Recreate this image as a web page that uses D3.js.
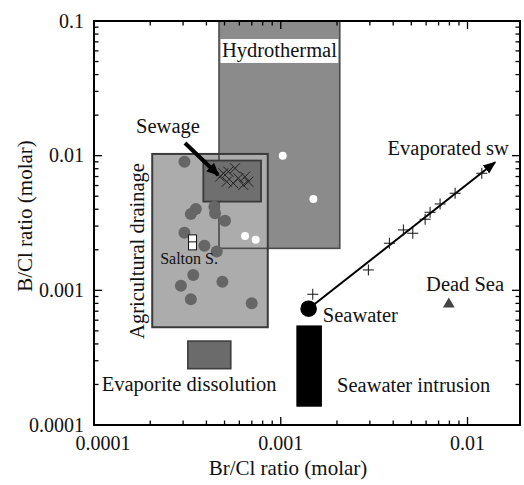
<!DOCTYPE html>
<html>
<head>
<meta charset="utf-8">
<script src="https://cdn.jsdelivr.net/npm/d3@7"></script>
<style>
  html, body { margin: 0; padding: 0; background: #fff; }
  svg { display: block; }
</style>
</head>
<body>
<script>
// ---- Axis settings ----
const xMajorTicks = [1e-4, 1e-3, 1e-2];
const xTickLabels = ["0.0001", "0.001", "0.01"];
const yMajorTicks = [1e-4, 1e-3, 1e-2, 1e-1];
const yTickLabels = ["0.0001", "0.001", "0.01", "0.1"];
const xDomain = [1e-4, 0.0191];
const yDomain = [1e-4, 0.1];

// ---- Source fields: [x0, x1, y0, y1] in Br/Cl and B/Cl ----
const hydrothermalBox = [0.000467, 0.00207, 0.00205, 0.1];
const agriculturalBox = [0.000205, 0.000852, 0.000532, 0.0103];
const sewageBox = [0.000385, 0.000784, 0.00456, 0.0092];
const evaporiteBox = [0.000318, 0.00054, 0.000262, 0.00042];
const intrusionBox = [0.00122, 0.00165, 0.000138, 0.000544];

// ---- Agricultural drainage samples ----
const agriBrCl = [0.000305, 0.000351, 0.00033, 0.000441, 0.000445, 0.000503, 0.000305,
                  0.00039, 0.000454, 0.00034, 0.000292, 0.000487, 0.00033, 0.000699];
const agriBCl  = [0.00902, 0.00402, 0.00369, 0.00418, 0.00374, 0.00329, 0.00268,
                  0.00214, 0.00194, 0.0013, 0.00108, 0.00116, 0.000859, 0.000802];

// ---- Hydrothermal samples ----
const hydroBrCl = [0.001025, 0.001495, 0.000644, 0.000734];
const hydroBCl  = [0.0100, 0.00477, 0.00253, 0.00237];

// ---- Sewage samples ----
const sewageBrCl = [0.000473, 0.000524, 0.000569, 0.000593, 0.000644, 0.00067, 0.00063,
                    0.000514, 0.000557, 0.000493];
const sewageBCl  = [0.00698, 0.0076, 0.00806, 0.0068, 0.00698, 0.00641, 0.00606,
                    0.00641, 0.00624, 0.0074];

// ---- Salton Sea ----
const saltonBrCl = [0.000337, 0.000337];
const saltonBCl  = [0.00241, 0.00214];

// ---- Evaporated seawater ----
const evapBrCl = [0.001484, 0.002945, 0.003817, 0.004536, 0.005093, 0.005929, 0.006305,
                  0.007131, 0.008582, 0.01193];
const evapBCl  = [0.000935, 0.001417, 0.002237, 0.002808, 0.002654, 0.003372, 0.0038,
                  0.004378, 0.005258, 0.0074];
const evapTrend = [[0.00141, 0.00073], [0.01406, 0.00893]];

// ---- Single end members ----
const seawater = [0.00141, 0.00073];
const deadSea = [0.00794, 0.000789];

// ---- Annotation arrow (Sewage) ----
const sewageArrow = [[0.000307, 0.01242], [0.000463, 0.00719]];

const width = 524, height = 485;
const margin = { left: 94, right: 4, top: 21, bottom: 60 };
const serif = "'Liberation Serif', 'Times New Roman', Times, 'DejaVu Serif', serif";

const svg = d3.select("body").append("svg")
  .attr("width", width).attr("height", height)
  .attr("font-family", serif)
  .style("font-family", serif);

const x = d3.scaleLog().domain(xDomain).range([margin.left, width - margin.right]);
const y = d3.scaleLog().domain(yDomain).range([height - margin.bottom, margin.top]);

const defs = svg.append("defs");
defs.append("clipPath").attr("id", "plotClip")
  .append("rect")
  .attr("x", margin.left).attr("y", margin.top)
  .attr("width", x.range()[1] - margin.left)
  .attr("height", y.range()[0] - margin.top);

defs.append("marker").attr("id", "headSmall")
  .attr("viewBox", "0 0 10 10").attr("refX", 9).attr("refY", 5)
  .attr("markerWidth", 6.5).attr("markerHeight", 6.5)
  .attr("markerUnits", "strokeWidth")
  .attr("orient", "auto")
  .append("path").attr("d", "M0,1 L10,5 L0,9 Z").attr("fill", "#000");

defs.append("marker").attr("id", "headBig")
  .attr("viewBox", "0 0 10 10").attr("refX", 9).attr("refY", 5)
  .attr("markerWidth", 3.2).attr("markerHeight", 3.2)
  .attr("markerUnits", "strokeWidth")
  .attr("orient", "auto")
  .append("path").attr("d", "M0,0.5 L10,5 L0,9.5 Z").attr("fill", "#000");

const plot = svg.append("g").attr("clip-path", "url(#plotClip)");

function box(b, fill, stroke, sw) {
  return plot.append("rect")
    .attr("x", x(b[0])).attr("y", y(b[3]))
    .attr("width", x(b[1]) - x(b[0]))
    .attr("height", y(b[2]) - y(b[3]))
    .attr("fill", fill)
    .attr("stroke", stroke)
    .attr("stroke-width", sw);
}

// Hydrothermal field
box(hydrothermalBox, "#8b8b8b", "none", 0);
// Agricultural drainage field drawn over it
box(agriculturalBox, "#acacac", "none", 0);
// Outlines
box(hydrothermalBox, "none", "#4a4a4a", 1.6);
box(agriculturalBox, "none", "#3a3a3a", 2);
// Sewage field
box(sewageBox, "#6f6f6f", "#3a3a3a", 1.8);
// Evaporite dissolution
box(evaporiteBox, "#6b6b6b", "#3e3e3e", 1.6);
// Seawater intrusion
box(intrusionBox, "#000", "#000", 1);

// Hydrothermal label backing
const hb0 = 0.0735, hb1 = 0.0488;
plot.append("rect")
  .attr("x", x(hydrothermalBox[0]) + 1.5)
  .attr("y", y(hb0))
  .attr("width", x(hydrothermalBox[1]) - x(hydrothermalBox[0]) - 3)
  .attr("height", y(hb1) - y(hb0))
  .attr("fill", "#fff");

// Agricultural drainage samples
plot.append("g").selectAll("circle")
  .data(d3.zip(agriBrCl, agriBCl))
  .join("circle")
  .attr("cx", d => x(d[0])).attr("cy", d => y(d[1]))
  .attr("r", 6).attr("fill", "#666");

// Hydrothermal samples
plot.append("g").selectAll("circle")
  .data(d3.zip(hydroBrCl, hydroBCl))
  .join("circle")
  .attr("cx", d => x(d[0])).attr("cy", d => y(d[1]))
  .attr("r", 4).attr("fill", "#fff");

// Sewage samples (x marks)
plot.append("g").selectAll("path")
  .data(d3.zip(sewageBrCl, sewageBCl))
  .join("path")
  .attr("transform", d => `translate(${x(d[0])},${y(d[1])})`)
  .attr("d", "M-5,-5L5,5M-5,5L5,-5")
  .attr("stroke", "#222").attr("stroke-width", 1);

// Salton Sea samples
plot.append("g").selectAll("rect")
  .data(d3.zip(saltonBrCl, saltonBCl))
  .join("rect")
  .attr("x", d => x(d[0]) - 4).attr("y", d => y(d[1]) - 4)
  .attr("width", 8).attr("height", 8)
  .attr("fill", "#fff").attr("stroke", "#111").attr("stroke-width", 1);

// Evaporated seawater trend
plot.append("line")
  .attr("x1", x(evapTrend[0][0])).attr("y1", y(evapTrend[0][1]))
  .attr("x2", x(evapTrend[1][0])).attr("y2", y(evapTrend[1][1]))
  .attr("stroke", "#000").attr("stroke-width", 2)
  .attr("marker-end", "url(#headSmall)");

plot.append("g").selectAll("path")
  .data(d3.zip(evapBrCl, evapBCl))
  .join("path")
  .attr("transform", d => `translate(${x(d[0])},${y(d[1])})`)
  .attr("d", "M-5.5,0H5.5M0,-5.5V5.5")
  .attr("stroke", "#111").attr("stroke-width", 1);

// Seawater
plot.append("circle")
  .attr("cx", x(seawater[0])).attr("cy", y(seawater[1]))
  .attr("r", 8.3).attr("fill", "#000");

// Dead Sea
plot.append("path")
  .attr("transform", `translate(${x(deadSea[0])},${y(deadSea[1])})`)
  .attr("d", d3.symbol(d3.symbolTriangle, 60)())
  .attr("fill", "#444");

// Sewage pointer
plot.append("line")
  .attr("x1", x(sewageArrow[0][0])).attr("y1", y(sewageArrow[0][1]))
  .attr("x2", x(sewageArrow[1][0])).attr("y2", y(sewageArrow[1][1]))
  .attr("stroke", "#000").attr("stroke-width", 4)
  .attr("marker-end", "url(#headBig)");

// ---- Axes ----
const xMinor = [], yMinor = [];
for (let e = -4; e <= -2; e++) for (let m = 2; m <= 9; m++) {
  const v = m * Math.pow(10, e);
  if (v < xDomain[1]) xMinor.push(v);
}
for (let e = -4; e <= -2; e++) for (let m = 2; m <= 9; m++) yMinor.push(m * Math.pow(10, e));

const x0 = margin.left, x1 = x.range()[1], y0 = y.range()[0], y1 = margin.top;
const axes = svg.append("g").attr("stroke", "#000");

function ticksH(vals, len, yy, dir) {
  axes.append("g").selectAll("line").data(vals).join("line")
    .attr("x1", d => x(d)).attr("x2", d => x(d))
    .attr("y1", yy).attr("y2", yy + dir * len)
    .attr("stroke-width", 1.3);
}
function ticksV(vals, len, xx, dir) {
  axes.append("g").selectAll("line").data(vals).join("line")
    .attr("y1", d => y(d)).attr("y2", d => y(d))
    .attr("x1", xx).attr("x2", xx + dir * len)
    .attr("stroke-width", 1.3);
}
ticksH(xMajorTicks, 8, y0, -1); ticksH(xMinor, 4.5, y0, -1);
ticksH(xMajorTicks, 8, y1, 1);  ticksH(xMinor, 4.5, y1, 1);
ticksV(yMajorTicks, 8, x0, 1);  ticksV(yMinor, 4.5, x0, 1);
ticksV(yMajorTicks, 8, x1, -1); ticksV(yMinor, 4.5, x1, -1);

svg.append("rect")
  .attr("x", x0).attr("y", y1)
  .attr("width", x1 - x0).attr("height", y0 - y1)
  .attr("fill", "none").attr("stroke", "#000").attr("stroke-width", 2);

const ink = "#111";

// Tick labels
svg.append("g").selectAll("text").data(xMajorTicks).join("text")
  .attr("x", (d, i) => x(d) + (i === 0 ? 9 : 0))
  .attr("y", y0 + 25)
  .attr("text-anchor", "middle")
  .attr("font-size", 20).attr("fill", ink)
  .text((d, i) => xTickLabels[i]);

svg.append("g").selectAll("text").data(yMajorTicks).join("text")
  .attr("x", x0 - 10)
  .attr("y", d => y(d))
  .attr("dy", "0.34em")
  .attr("text-anchor", "end")
  .attr("font-size", 20).attr("fill", ink)
  .text((d, i) => yTickLabels[i]);

// Axis titles
svg.append("text")
  .attr("x", (x0 + x1) / 2 - 19).attr("y", 475)
  .attr("text-anchor", "middle").attr("font-size", 21).attr("fill", ink)
  .text("Br/Cl ratio (molar)");

svg.append("text")
  .attr("transform", `translate(32,${216}) rotate(-90)`)
  .attr("text-anchor", "middle").attr("font-size", 21).attr("fill", ink)
  .text("B/Cl ratio (molar)");

// ---- Field and sample labels ----
const labels = svg.append("g").attr("font-size", 20.5).attr("fill", ink);

labels.append("text")
  .attr("x", (x(hydrothermalBox[0]) + x(hydrothermalBox[1])) / 2)
  .attr("y", y(0.0541))
  .attr("text-anchor", "middle")
  .text("Hydrothermal");

labels.append("text").attr("x", x(0.000168)).attr("y", y(0.01474)).text("Sewage");

labels.append("text").attr("x", x(0.01664)).attr("y", y(0.01012))
  .attr("text-anchor", "end").text("Evaporated sw");

labels.append("text")
  .attr("transform", `translate(${x(0.000185)},${y(0.00196)}) rotate(-90)`)
  .attr("text-anchor", "middle").text("Agricultural drainage");

labels.append("text").attr("x", x(0.000226)).attr("y", y(0.00157))
  .attr("font-size", 16).text("Salton S.");

labels.append("text").attr("x", x(0.00011)).attr("y", y(0.000179))
  .text("Evaporite dissolution");

labels.append("text").attr("x", x(0.002002)).attr("y", y(0.000176))
  .text("Seawater intrusion");

labels.append("text").attr("x", x(0.00168)).attr("y", y(0.000582))
  .text("Seawater");

labels.append("text").attr("x", x(0.0060)).attr("y", y(0.00099))
  .text("Dead Sea");
</script>
</body>
</html>
